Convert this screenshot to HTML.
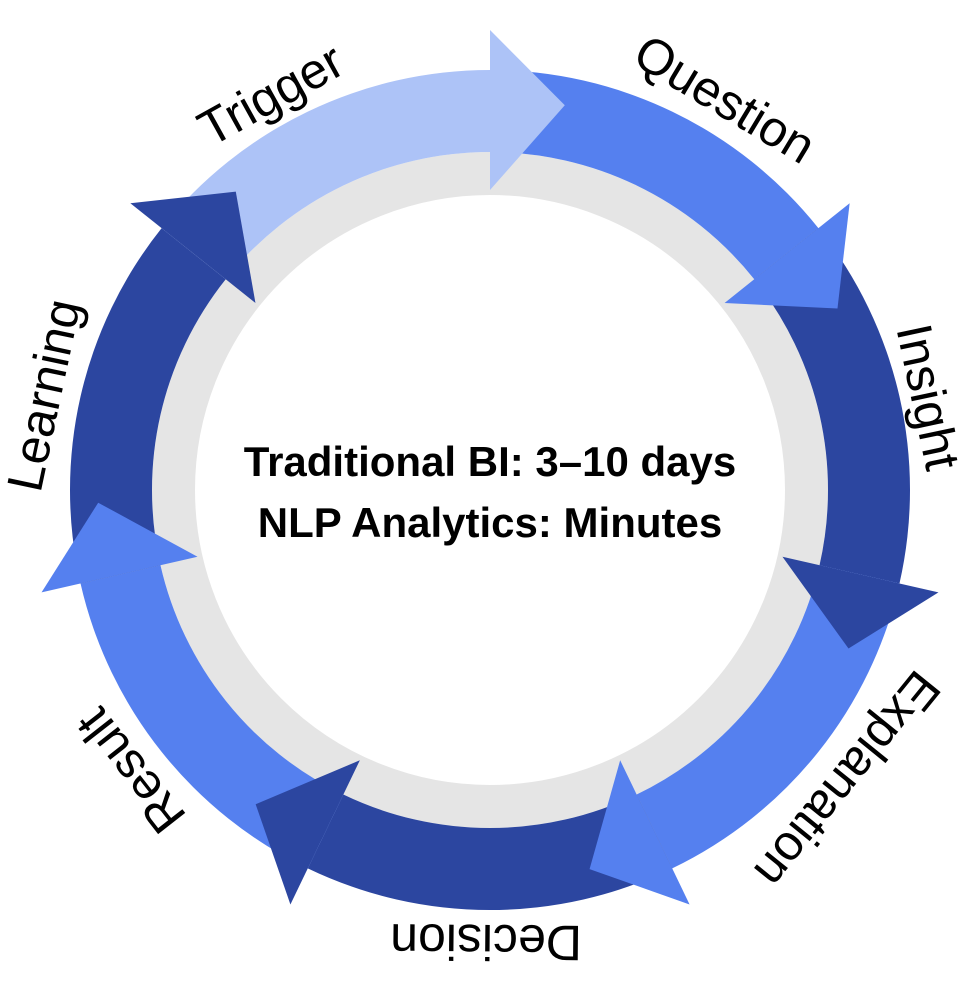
<!DOCTYPE html>
<html><head><meta charset="utf-8">
<style>
html,body{margin:0;padding:0;background:#fff;width:969px;height:981px;overflow:hidden}
svg{display:block}
text{font-family:"Liberation Sans",sans-serif}
</style></head>
<body>
<svg id="s" width="969" height="981" viewBox="0 0 969 981" xmlns="http://www.w3.org/2000/svg">
<circle cx="490" cy="490" r="316.5" fill="none" stroke="#e5e5e5" stroke-width="43"/>
<g id="bodies"></g>
<g id="heads"></g>
<g font-size="50" fill="#000" text-anchor="middle" dominant-baseline="central">
<text transform="rotate(-29 490 490) translate(490 38)">Trigger</text>
<text transform="rotate(31 490 490) translate(490 34)">Question</text>
<text transform="rotate(78 490 490) translate(490 42)">Insight</text>
<text transform="rotate(129 490 490) translate(490 30)">Explanation</text>
<text transform="rotate(180.5 490 490) translate(490 38)">Decision</text>
<text transform="rotate(232 490 490) translate(490 34)">Result</text>
<text transform="rotate(282 490 490) translate(490 34)">Learning</text>
</g>
<g font-size="42" font-weight="bold" fill="#000" text-anchor="middle">
<text x="490" y="476">Traditional BI: 3–10 days</text>
<text x="490" y="537">NLP Analytics: Minutes</text>
</g>
</svg>
<script>
(function(){
var cx=490,cy=490,ns="http://www.w3.org/2000/svg";
function P(a,r){var t=a*Math.PI/180;return [cx+r*Math.sin(t),cy-r*Math.cos(t)];}
var cols=["#5580ef","#2c46a0","#5580ef","#2c46a0","#5580ef","#2c46a0","#adc3f7"];
var seg=360/7,b=document.getElementById("bodies"),h=document.getElementById("heads");
for(var i=0;i<7;i++){
 var a0=i*seg,a1=a0+seg,ri=338,ro=420;
 var p1=P(a0,ro),p2=P(a1,ro),p3=P(a1,ri),p4=P(a0,ri);
 var d="M"+p1+" A"+ro+" "+ro+" 0 0 1 "+p2+" L"+p3+" A"+ri+" "+ri+" 0 0 0 "+p4+"Z";
 var e=document.createElementNS(ns,"path");e.setAttribute("d",d);e.setAttribute("fill",cols[i]);b.appendChild(e);
 var q1=P(a1,460),q2=P(a1,300),q3=P(a1+11,392);
 var f=document.createElementNS(ns,"polygon");f.setAttribute("points",q1+" "+q3+" "+q2);f.setAttribute("fill",cols[i]);h.appendChild(f);
}
})();
</script>
</body></html>
